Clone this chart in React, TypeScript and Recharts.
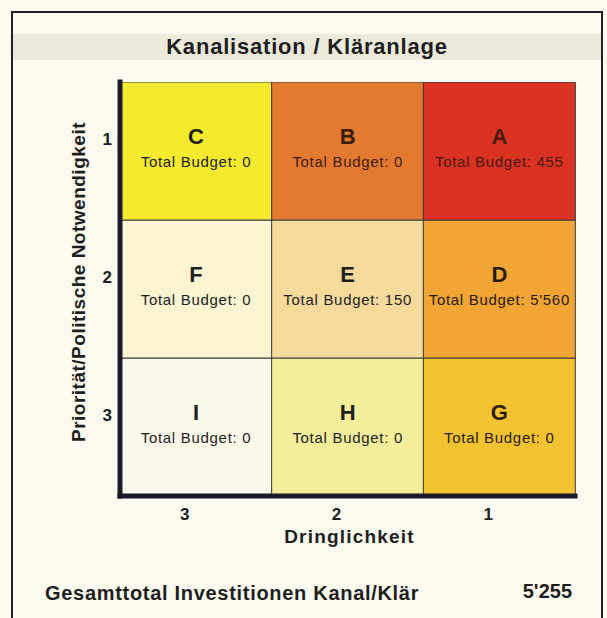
import React from 'react';
import { BarChart, Bar, XAxis, YAxis, Cell, LabelList, Label } from 'recharts';

// Dringlichkeit (urgency) columns, left to right
const urgencyLabels = ['3', '2', '1'];
// Priorität rows, top to bottom
const priorityLabels = ['1', '2', '3'];
const priorityTickPositions = [2.5, 1.5, 0.5];

const row1Letters = ['C', 'B', 'A'];
const row2Letters = ['F', 'E', 'D'];
const row3Letters = ['I', 'H', 'G'];

const row1Budget = [0, 0, 455];
const row2Budget = [0, 150, 5560];
const row3Budget = [0, 0, 0];

const row1Colors = ['#f6ea2e', '#e47a2f', '#db3323'];
const row2Colors = ['#faf4d2', '#f5da9c', '#f0a535'];
const row3Colors = ['#fcf8ea', '#f4ee9a', '#f2c231'];

const row1TextColors = ['#1e1e1e', '#3a1a0c', '#4a1a10'];
const row2TextColors = ['#1e1e1e', '#1e1e1e', '#2a1a0a'];
const row3TextColors = ['#1e1e1e', '#1e1e1e', '#2a1a0a'];

const title = 'Kanalisation / Kläranlage';
const xTitle = 'Dringlichkeit';
const yTitle = 'Priorität/Politische Notwendigkeit';
const footerLabel = 'Gesamttotal Investitionen Kanal/Klär';
const grandTotal = 5255;

const cellHeightUnits = [1, 1, 1];

const data = urgencyLabels.map((u) => ({
  urgency: u,
  r3: cellHeightUnits[2],
  r2: cellHeightUnits[1],
  r1: cellHeightUnits[0],
}));

const FONT = '"Liberation Sans", Arial, Helvetica, sans-serif';

const fmt = (n: number) => String(n).replace(/\B(?=(\d{3})+(?!\d))/g, "'");

const makeCellLabel = (letters: string[], budgets: number[], colors: string[]) => (props: any) => {
  const vb = props.viewBox || props;
  const x = Number(vb.x ?? props.x);
  const y = Number(vb.y ?? props.y);
  const w = Number(vb.width ?? props.width);
  const h = Number(vb.height ?? props.height);
  const idx = props.index;
  const cx = x + w / 2;
  const cy = y + h / 2;
  return (
    <g>
      <text x={cx} y={cy - 15} textAnchor="middle" dominantBaseline="central" fontFamily={FONT} fontSize={22} fontWeight="bold" fill={colors[idx]}>
        {letters[idx]}
      </text>
      <text x={cx} y={cy + 10} textAnchor="middle" dominantBaseline="central" fontFamily={FONT} fontSize={15} letterSpacing={0.7} fill={colors[idx]}>
        {`Total Budget: ${fmt(budgets[idx])}`}
      </text>
    </g>
  );
};

const YTick = (props: any) => {
  const { x, y, payload } = props;
  const i = priorityTickPositions.indexOf(payload.value);
  return (
    <text x={x} y={y - 12} textAnchor="end" dominantBaseline="central" fontFamily={FONT} fontSize={17} fontWeight="bold" fill="#1e1e1e">
      {priorityLabels[i]}
    </text>
  );
};

const XTick = (props: any) => {
  const { x, y, payload } = props;
  return (
    <text x={x - 11} y={y + 4} dy="0.72em" textAnchor="middle" fontFamily={FONT} fontSize={17} fontWeight="bold" fill="#1e1e1e">
      {payload.value}
    </text>
  );
};

const YTitle = (props: any) => {
  const vb = props.viewBox || {};
  const cx = vb.x - 22;
  const cy = vb.y + vb.height / 2 - 7;
  return (
    <text x={cx} y={cy} transform={`rotate(-90 ${cx} ${cy})`} textAnchor="middle" dominantBaseline="central" fontFamily={FONT} fontSize={19} fontWeight="bold" letterSpacing={0.5} fill="#1e1e1e">
      {yTitle}
    </text>
  );
};

const XTitle = (props: any) => {
  const vb = props.viewBox || {};
  const cx = vb.x + vb.width / 2 + 2;
  const cy = vb.y + 40;
  return (
    <text x={cx} y={cy} textAnchor="middle" dominantBaseline="central" fontFamily={FONT} fontSize={19} fontWeight="bold" letterSpacing={1.2} fill="#1e1e1e">
      {xTitle}
    </text>
  );
};

const axisLineStyle = { stroke: '#1b1b28', strokeWidth: 5, strokeLinecap: 'square' as const };

export default function App() {
  return (
    <div style={{ position: 'absolute', left: 0, top: 0, width: 607, height: 618, background: '#fcfaee', overflow: 'hidden', fontFamily: FONT }}>
      <div style={{ position: 'absolute', left: 11, top: 11, width: 592, height: 640, border: '2px solid #222', boxSizing: 'border-box' }} />
      <div style={{ position: 'absolute', left: 13, top: 34, width: 588, height: 26, background: '#ece9db' }} />
      <div style={{ position: 'absolute', left: 0, top: 36, width: 614, textAlign: 'center', fontSize: 22, fontWeight: 'bold', lineHeight: '22px', letterSpacing: 0.8, color: '#1e1e1e' }}>
        {title}
      </div>
      <div style={{ position: 'absolute', left: 0, top: 0 }}>
        <BarChart width={607} height={618} data={data} margin={{ top: 82, right: 32, bottom: 92, left: 100 }} barCategoryGap={0} barGap={0}>
          <Bar dataKey="r3" stackId="grid" isAnimationActive={false}>
            {row3Colors.map((c, i) => (
              <Cell key={`r3-${i}`} fill={c} stroke="#3a3a3a" strokeWidth={1} />
            ))}
            <LabelList dataKey="r3" content={makeCellLabel(row3Letters, row3Budget, row3TextColors)} />
          </Bar>
          <Bar dataKey="r2" stackId="grid" isAnimationActive={false}>
            {row2Colors.map((c, i) => (
              <Cell key={`r2-${i}`} fill={c} stroke="#3a3a3a" strokeWidth={1} />
            ))}
            <LabelList dataKey="r2" content={makeCellLabel(row2Letters, row2Budget, row2TextColors)} />
          </Bar>
          <Bar dataKey="r1" stackId="grid" isAnimationActive={false}>
            {row1Colors.map((c, i) => (
              <Cell key={`r1-${i}`} fill={c} stroke="#3a3a3a" strokeWidth={1} />
            ))}
            <LabelList dataKey="r1" content={makeCellLabel(row1Letters, row1Budget, row1TextColors)} />
          </Bar>
          <XAxis dataKey="urgency" type="category" height={30} axisLine={axisLineStyle} tickLine={false} tick={<XTick />} interval={0}>
            <Label content={<XTitle />} />
          </XAxis>
          <YAxis type="number" domain={[0, 3]} ticks={priorityTickPositions} width={20} axisLine={axisLineStyle} tickLine={false} tick={<YTick />} interval={0} allowDataOverflow>
            <Label content={<YTitle />} />
          </YAxis>
        </BarChart>
      </div>
      <div style={{ position: 'absolute', left: 45, top: 582, fontSize: 20, fontWeight: 'bold', lineHeight: '22px', color: '#1e1e1e', letterSpacing: 0.7 }}>
        {footerLabel}
      </div>
      <div style={{ position: 'absolute', right: 607 - 572, top: 580, fontSize: 20, fontWeight: 'bold', lineHeight: '22px', color: '#1e1e1e' }}>
        {fmt(grandTotal)}
      </div>
    </div>
  );
}
